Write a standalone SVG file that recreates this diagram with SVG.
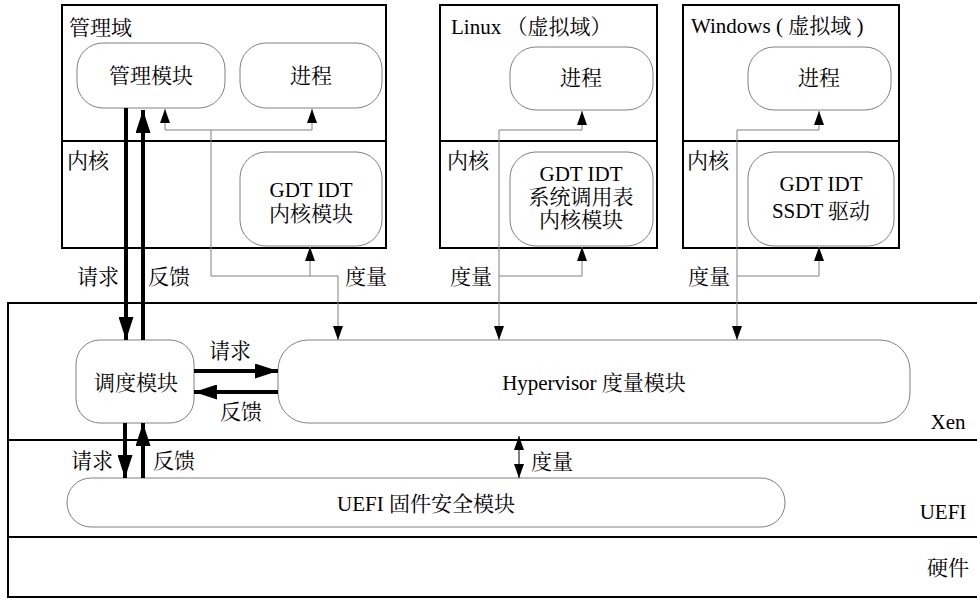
<svg xmlns="http://www.w3.org/2000/svg" width="977" height="600" viewBox="0 0 977 600">
<style>
text{font-family:"Liberation Serif","Noto Serif CJK SC","Noto Sans CJK SC",serif;font-size:21px;fill:#000}
.c{text-anchor:middle}
.frame{fill:none;stroke:#000;stroke-width:2}
.node{fill:#fff;stroke:#808080;stroke-width:1}
.thin{fill:none;stroke:#808080;stroke-width:1}
.thick{fill:none;stroke:#000;stroke-width:4}
</style>
<defs>
<marker id="ab" markerUnits="userSpaceOnUse" markerWidth="23" markerHeight="15" refX="23" refY="7.5" orient="auto"><path d="M0,0 L23,7.5 L0,15 z" fill="#000"/></marker>
<marker id="as" markerUnits="userSpaceOnUse" markerWidth="14" markerHeight="10" refX="14" refY="5" orient="auto-start-reverse"><path d="M0,0 L14,5 L0,10 z" fill="#000"/></marker>
</defs>
<rect width="977" height="600" fill="#fff"/>

<g id="xen-layers">
<rect class="frame" x="8" y="303" width="980" height="294"/>
<line class="frame" x1="8" y1="440" x2="977" y2="440"/>
<line class="frame" x1="8" y1="537" x2="977" y2="537"/>
<text x="948" y="429" class="c">Xen</text>
<text x="943" y="519" class="c">UEFI</text>
<text x="948" y="575" class="c">硬件</text>
</g>

<g id="mgmt-domain">
<rect class="frame" x="62" y="5" width="324" height="243"/>
<line class="frame" x1="62" y1="141" x2="386" y2="141"/>
<text x="69" y="35">管理域</text>
<text x="67" y="168">内核</text>
</g>
<g id="mgmt-module"><rect class="node" x="77" y="43" width="148" height="65" rx="26"/><text x="151" y="83" class="c">管理模块</text></g>
<g id="mgmt-process"><rect class="node" x="240" y="43" width="142" height="65" rx="26"/><text x="311" y="83" class="c">进程</text></g>
<g id="mgmt-kernel"><rect class="node" x="240" y="152" width="142" height="94" rx="26"/><text x="311" y="197" class="c">GDT IDT</text><text x="311" y="221" class="c">内核模块</text></g>

<g id="linux-domain">
<rect class="frame" x="440" y="5" width="217" height="243"/>
<line class="frame" x1="440" y1="141" x2="657" y2="141"/>
<text x="451" y="34">Linux （虚拟域）</text>
<text x="447" y="168">内核</text>
</g>
<g id="linux-process"><rect class="node" x="510" y="47" width="143" height="63" rx="26"/><text x="581" y="85" class="c">进程</text></g>
<g id="linux-kernel"><rect class="node" x="510" y="152" width="143" height="94" rx="26"/><text x="581" y="181" class="c">GDT IDT</text><text x="581" y="204" class="c">系统调用表</text><text x="581" y="227" class="c">内核模块</text></g>

<g id="windows-domain">
<rect class="frame" x="683" y="5" width="216" height="243"/>
<line class="frame" x1="683" y1="141" x2="899" y2="141"/>
<text x="691" y="33">Windows ( 虚拟域 )</text>
<text x="687" y="168">内核</text>
</g>
<g id="windows-process"><rect class="node" x="748" y="47" width="143" height="63" rx="26"/><text x="819" y="85" class="c">进程</text></g>
<g id="windows-kernel"><rect class="node" x="748" y="152" width="146" height="94" rx="26"/><text x="821" y="191" class="c">GDT IDT</text><text x="821" y="218" class="c">SSDT 驱动</text></g>

<g id="scheduler"><rect class="node" x="76" y="340" width="118" height="83" rx="24"/><text x="136" y="390" class="c">调度模块</text></g>
<g id="hypervisor"><rect class="node" x="278" y="340" width="632" height="83" rx="30"/><text x="594" y="390" class="c">Hypervisor 度量模块</text></g>
<g id="uefi-module"><rect class="node" x="67" y="478" width="718" height="49" rx="24"/><text x="426" y="511" class="c">UEFI 固件安全模块</text></g>

<g id="connectors">
<path class="thin" d="M211,276 V130 H165 V109" marker-end="url(#as)"/>
<path class="thin" d="M211,130 H312 V109" marker-end="url(#as)"/>
<path class="thin" d="M211,276 H310 V247" marker-end="url(#as)"/>
<path class="thin" d="M310,276 H338 V340" marker-end="url(#as)"/>
<path class="thin" d="M499,130 V340" marker-end="url(#as)"/>
<path class="thin" d="M499,130 H582 V111" marker-end="url(#as)"/>
<path class="thin" d="M499,276 H582 V247" marker-end="url(#as)"/>
<path class="thin" d="M737,130 V340" marker-end="url(#as)"/>
<path class="thin" d="M737,130 H819 V111" marker-end="url(#as)"/>
<path class="thin" d="M737,276 H819 V247" marker-end="url(#as)"/>
<path class="thick" d="M126,108 V340" marker-end="url(#ab)"/>
<path class="thick" d="M143,340 V110" marker-end="url(#ab)"/>
<path class="thick" d="M194,371 H278" marker-end="url(#ab)"/>
<path class="thick" d="M278,392 H194" marker-end="url(#ab)"/>
<path class="thick" d="M125,423 V478" marker-end="url(#ab)"/>
<path class="thick" d="M143,478 V423" marker-end="url(#ab)"/>
<path d="M519,436 V478" stroke="#000" stroke-width="1" marker-start="url(#as)" marker-end="url(#as)"/>
<text x="98" y="284" class="c">请求</text>
<text x="169" y="284" class="c">反馈</text>
<text x="366" y="284" class="c">度量</text>
<text x="471" y="284" class="c">度量</text>
<text x="709" y="284" class="c">度量</text>
<text x="230" y="358" class="c">请求</text>
<text x="241" y="419" class="c">反馈</text>
<text x="92" y="468" class="c">请求</text>
<text x="174" y="468" class="c">反馈</text>
<text x="552" y="469" class="c">度量</text>
</g>
</svg>
